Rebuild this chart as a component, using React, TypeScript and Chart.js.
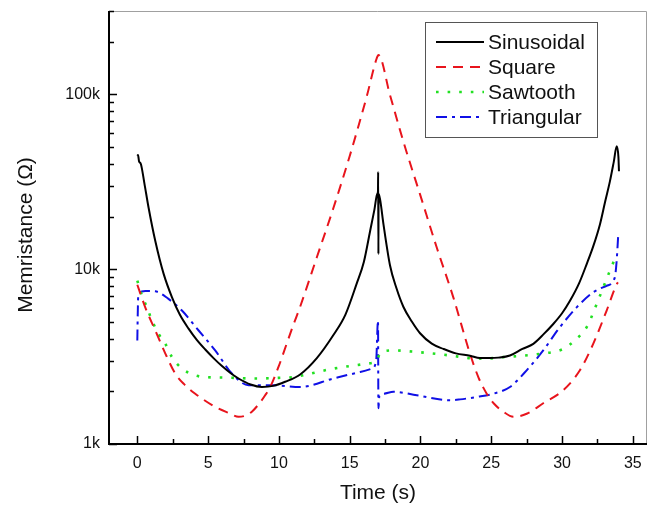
import React, { useEffect, useRef } from "react";
import { Chart, registerables } from "chart.js";

Chart.register(...registerables);

// Sinusoidal
const sinTime = [0, 0.05, 0.12, 0.25, 0.5, 0.8, 1.27, 1.86, 2.45, 3.0, 3.62, 4.2, 4.8, 5.4, 5.98, 6.6, 7.15, 8.0, 8.8, 9.6, 10.44, 11.5, 12.68, 13.85, 14.7, 15.5, 16.0, 16.44, 16.75, 16.95, 17.0, 17.01, 17.03, 17.04, 17.15, 17.39, 17.85, 18.3, 18.79, 19.4, 19.97, 20.8, 21.62, 22.5, 23.5, 24.2, 24.9, 25.5, 26.32, 27.2, 27.97, 28.7, 29.38, 30.0, 30.56, 31.2, 31.74, 32.2, 32.68, 33.05, 33.38, 33.65, 33.86, 33.98, 34.02];
const sinR = [44500, 45000, 41500, 40000, 31000, 22400, 14500, 9400, 6900, 5500, 4570, 3940, 3470, 3090, 2790, 2540, 2370, 2190, 2120, 2150, 2270, 2500, 3100, 4200, 5500, 8300, 11000, 16500, 22000, 27000, 28000, 36000, 12200, 27000, 25000, 18000, 10500, 7800, 6100, 5000, 4300, 3750, 3500, 3300, 3200, 3100, 3100, 3120, 3210, 3500, 3740, 4250, 4860, 5600, 6600, 8300, 10700, 13500, 18100, 24500, 31800, 41000, 50500, 44000, 36300];

// Square
const sqTime = [0, 0.56, 1.27, 1.98, 2.68, 3.3, 4.09, 5.5, 6.5, 7.15, 7.6, 8.09, 8.6, 9.03, 9.39, 10.0, 10.5, 11.0, 11.5, 12.68, 13.85, 15.03, 16.2, 16.9, 17.03, 17.85, 18.79, 19.97, 21.15, 22.32, 23.5, 24.1, 24.68, 25.2, 25.85, 26.56, 27.5, 28.67, 30.08, 31.26, 32.2, 33.15, 33.86, 33.95];
const sqR = [8150, 6050, 4460, 3290, 2530, 2200, 1940, 1630, 1500, 1430, 1450, 1530, 1700, 1900, 2120, 2800, 3650, 4750, 6100, 11700, 22400, 45200, 97000, 160000, 168000, 99000, 53800, 26800, 13300, 6900, 3280, 2400, 1940, 1700, 1530, 1430, 1490, 1710, 2030, 2640, 3740, 5800, 8200, 8400];

// Sawtooth
const sawTime = [0, 0.33, 0.68, 1.04, 1.5, 1.98, 2.45, 3.15, 4.09, 5.0, 5.98, 8.33, 10.0, 11.15, 11.5, 13.85, 16.2, 16.91, 17.1, 17.27, 18.09, 19.74, 22.09, 23.5, 24.5, 25.85, 28.44, 30.08, 31.03, 31.74, 32.44, 32.91, 33.38, 33.86];
const sawR = [8600, 7060, 6050, 5080, 4270, 3740, 3140, 2700, 2470, 2410, 2400, 2370, 2390, 2420, 2450, 2700, 2880, 3000, 3250, 3360, 3430, 3360, 3210, 3100, 3080, 3140, 3280, 3500, 4000, 4660, 6300, 7870, 9800, 12200];

// Triangular
const triTime = [0, 0.03, 0.07, 0.56, 1.27, 2.2, 3.15, 4.33, 5.5, 6.68, 7.86, 9.5, 11.5, 13.85, 15.74, 16.56, 16.87, 17.0, 17.03, 17.1, 17.39, 18.09, 19.74, 22.09, 22.8, 24.0, 25.15, 26.32, 27.5, 28.67, 29.85, 31.03, 32.2, 33.15, 33.73, 33.85, 33.97];
const triR = [3910, 5500, 7200, 7500, 7470, 6760, 5800, 4460, 3430, 2530, 2170, 2170, 2120, 2370, 2580, 2700, 3000, 5080, 1600, 1900, 1940, 1990, 1900, 1780, 1800, 1860, 1940, 2120, 2640, 3430, 4660, 6050, 7380, 8040, 8980, 11000, 15800];

const xMajorTicks = [0, 5, 10, 15, 20, 25, 30, 35];
const yMajorTicks = [1000, 10000, 100000];
const xTitle = "Time (s)";
const yTitle = "Memristance (Ω)";

const FONT = "'Liberation Sans', Arial, sans-serif";

const toPoints = (xs: number[], ys: number[]) => xs.map((x, i) => ({ x, y: ys[i] }));

const decorPlugin = {
  id: "decor",
  afterDraw(chart: any) {
    const { ctx, chartArea } = chart;
    const { left, right, top, bottom } = chartArea;
    const xs = chart.scales.x;
    const ys = chart.scales.y;
    ctx.save();
    // frame top/right (gray)
    ctx.strokeStyle = "#a0a0a0";
    ctx.lineWidth = 1;
    ctx.beginPath();
    ctx.moveTo(left, top + 0.5);
    ctx.lineTo(right - 0.5, top + 0.5);
    ctx.lineTo(right - 0.5, bottom);
    ctx.stroke();
    // axes
    ctx.strokeStyle = "#000";
    ctx.lineWidth = 2;
    ctx.beginPath();
    ctx.moveTo(left, top);
    ctx.lineTo(left, bottom);
    ctx.lineTo(right, bottom);
    ctx.stroke();
    // x ticks
    ctx.lineWidth = 1.5;
    ctx.beginPath();
    for (let v = 0; v <= 35; v += 2.5) {
      const px = Math.round(xs.getPixelForValue(v)) + 0.5;
      const len = v % 5 === 0 ? 8 : 5;
      ctx.moveTo(px, bottom);
      ctx.lineTo(px, bottom - len);
    }
    // y ticks
    for (let dec = 1000; dec <= 100000; dec *= 10) {
      for (let m = 1; m <= 9; m++) {
        const v = dec * m;
        if (v > ys.max) break;
        const py = Math.round(ys.getPixelForValue(v)) + 0.5;
        const len = m === 1 ? 8 : 5;
        ctx.moveTo(left, py);
        ctx.lineTo(left + len, py);
      }
    }
    ctx.stroke();
    // titles
    ctx.fillStyle = "#111";
    ctx.font = `21px ${FONT}`;
    ctx.textAlign = "center";
    ctx.textBaseline = "middle";
    ctx.fillText(xTitle, 378, 493);
    ctx.save();
    ctx.translate(26, 235);
    ctx.rotate(-Math.PI / 2);
    ctx.fillText(yTitle, 0, 0);
    ctx.restore();
    // legend
    const bx = 425, by = 22, bw = 172, bh = 115;
    ctx.fillStyle = "#fff";
    ctx.fillRect(bx, by, bw, bh);
    ctx.strokeStyle = "#555";
    ctx.lineWidth = 1;
    ctx.strokeRect(bx + 0.5, by + 0.5, bw, bh);
    ctx.font = `21px ${FONT}`;
    ctx.textAlign = "left";
    chart.data.datasets.forEach((ds: any, i: number) => {
      const cy = 42 + i * 25;
      ctx.strokeStyle = ds.borderColor;
      ctx.lineWidth = ds.borderWidth;
      ctx.setLineDash(ds.borderDash || []);
      ctx.beginPath();
      ctx.moveTo(436, cy);
      ctx.lineTo(484, cy);
      ctx.stroke();
      ctx.setLineDash([]);
      ctx.fillStyle = "#111";
      ctx.fillText(ds.label, 488, cy + 1);
    });
    ctx.restore();
  },
};

export default function App() {
  const ref = useRef<HTMLCanvasElement>(null);
  useEffect(() => {
    if (!ref.current) return;
    const chart = new Chart(ref.current, {
      type: "line",
      data: {
        datasets: [
          { label: "Sinusoidal", data: toPoints(sinTime, sinR), borderColor: "#000000", borderWidth: 2, borderDash: [] },
          { label: "Square", data: toPoints(sqTime, sqR), borderColor: "#e8141c", borderWidth: 2, borderDash: [10, 7] },
          { label: "Sawtooth", data: toPoints(sawTime, sawR), borderColor: "#22e022", borderWidth: 2.6, borderDash: [2.6, 9] },
          { label: "Triangular", data: toPoints(triTime, triR), borderColor: "#1010e6", borderWidth: 2, borderDash: [11, 5, 3, 5] },
        ] as any,
      },
      options: {
        animation: false,
        responsive: false,
        maintainAspectRatio: false,
        layout: { padding: { left: 0, right: 6, top: 11, bottom: 0 } },
        elements: {
          point: { radius: 0, hoverRadius: 0 },
          line: { cubicInterpolationMode: "monotone", fill: false },
        },
        plugins: { legend: { display: false }, tooltip: { enabled: false } },
        scales: {
          x: {
            type: "linear",
            min: -2,
            max: 36,
            grid: { display: false, drawTicks: false },
            border: { display: false },
            ticks: { font: { family: FONT, size: 16 }, color: "#111", padding: 10, maxRotation: 0 },
            afterBuildTicks: (s: any) => { s.ticks = xMajorTicks.map((v) => ({ value: v })); },
            afterFit: (s: any) => { s.height = 62; s.paddingLeft = 0; s.paddingRight = 0; },
          },
          y: {
            type: "logarithmic",
            min: 1000,
            max: 300000,
            grid: { display: false, drawTicks: false },
            border: { display: false },
            ticks: {
              font: { family: FONT, size: 16 },
              color: "#111",
              padding: 9,
              autoSkip: false,
              callback: (v: any) => `${Number(v) / 1000}k`,
            },
            afterBuildTicks: (s: any) => { s.ticks = yMajorTicks.map((v) => ({ value: v })); },
            afterFit: (s: any) => { s.width = 109; s.paddingTop = 0; s.paddingBottom = 0; },
          },
        },
      } as any,
      plugins: [decorPlugin],
    });
    return () => chart.destroy();
  }, []);
  return (
    <div style={{ position: "absolute", left: 0, top: 0, width: 653, height: 506, background: "#fff" }}>
      <canvas ref={ref} width={653} height={506} />
    </div>
  );
}
